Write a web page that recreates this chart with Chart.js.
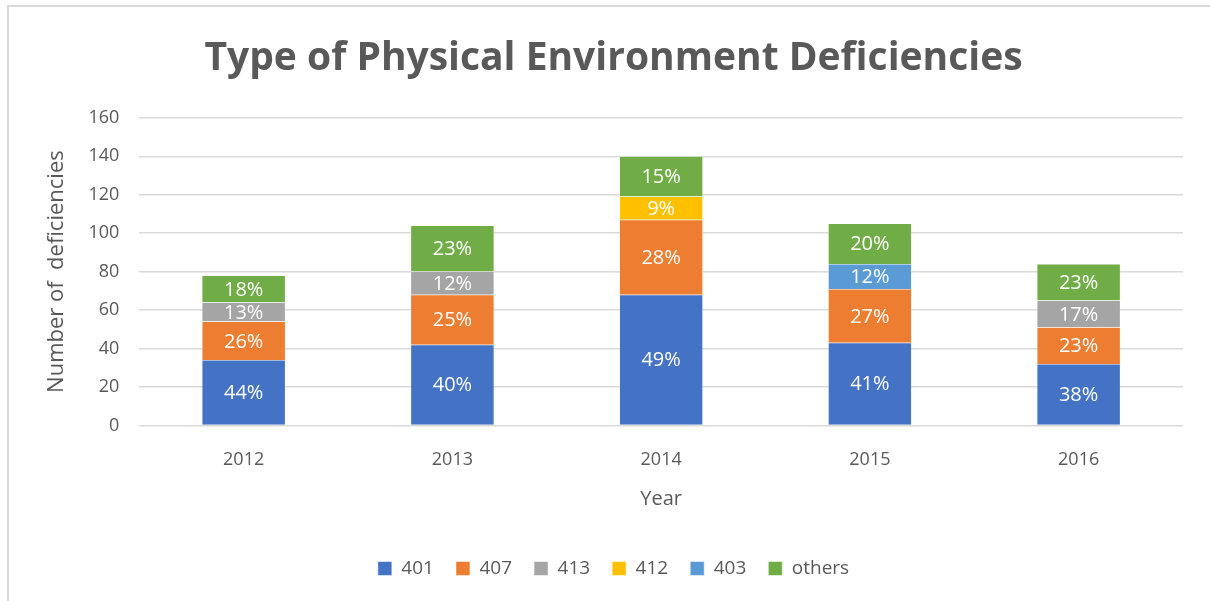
<!DOCTYPE html>
<html>
<head>
<meta charset="utf-8">
<script src="https://cdn.jsdelivr.net/npm/chart.js@4"></script>
<style>
    html, body { margin: 0; padding: 0; background: #fff; }
    #wrap {
        position: absolute;
        left: 7px; top: 5px;
        width: 1210px; height: 601px;
        border-left: 2px solid #d9d9d9;
        border-top: 2px solid #d9d9d9;
        box-sizing: border-box;
    }
    canvas { display: block; }
</style>
</head>
<body>
<div id="wrap"><canvas id="chart" width="1201" height="594"></canvas></div>
<script>
// Data
const years = ["2012", "2013", "2014", "2015", "2016"];
const s401 = [34, 42, 68, 43, 32];
const s407 = [20, 26, 39, 28, 19];
const s413 = [10, 12, null, null, 14];
const s412 = [null, null, 12, null, null];
const s403 = [null, null, null, 13, null];
const sOthers = [14, 24, 21, 21, 19];
const yTicks = [0, 20, 40, 60, 80, 100, 120, 140, 160];

const FONT = "'Open Sans', 'Liberation Sans', sans-serif";
const GREY = "#595959";

// draw percentage of column total inside each segment
const pctLabels = {
    id: "pctLabels",
    afterDatasetsDraw(chart) {
        const ctx = chart.ctx;
        const sets = chart.data.datasets;
        ctx.save();
        ctx.fillStyle = "#fff";
        ctx.font = "20px " + FONT;
        ctx.textAlign = "center";
        ctx.textBaseline = "middle";
        sets.forEach((ds, i) => {
            const meta = chart.getDatasetMeta(i);
            meta.data.forEach((bar, j) => {
                const v = ds.data[j];
                if (v == null) return;
                let total = 0;
                sets.forEach(d => { total += d.data[j] || 0; });
                const pct = Math.round(v / total * 100) + "%";
                ctx.fillText(pct, bar.x, (bar.y + bar.base) / 2 + 1);
            });
        });
        ctx.restore();
    }
};

function series(label, data, color) {
    return {
        label: label,
        data: data,
        backgroundColor: color,
        borderColor: "#fff",
        borderWidth: 0.5,
        barPercentage: 0.4,
        categoryPercentage: 1.0
    };
}

new Chart(document.getElementById("chart").getContext("2d"), {
    type: "bar",
    data: {
        labels: years,
        datasets: [
            series("401", s401, "#4472c4"),
            series("407", s407, "#ed7d31"),
            series("413", s413, "#a5a5a5"),
            series("412", s412, "#ffc000"),
            series("403", s403, "#5b9bd5"),
            series("others", sOthers, "#70ad47")
        ]
    },
    plugins: [pctLabels],
    options: {
        responsive: false,
        animation: false,
        layout: { padding: { left: 35, right: 27, top: 10, bottom: 13 } },
        plugins: {
            title: {
                display: true,
                text: "Type of Physical Environment Deficiencies",
                color: GREY,
                font: { family: FONT, size: 39, weight: "bold" },
                padding: { top: 18, bottom: 36 }
            },
            legend: {
                position: "bottom",
                labels: {
                    color: GREY,
                    font: { family: FONT, size: 19 },
                    boxWidth: 14,
                    boxHeight: 14,
                    padding: 22
                }
            },
            tooltip: { enabled: false }
        },
        scales: {
            x: {
                stacked: true,
                grid: { display: false },
                border: { display: false },
                ticks: { color: GREY, font: { family: FONT, size: 18 }, padding: 16 },
                title: {
                    display: true,
                    text: "Year",
                    color: GREY,
                    font: { family: FONT, size: 20 },
                    padding: { top: 0, bottom: 26 }
                }
            },
            y: {
                stacked: true,
                min: 0,
                max: 160,
                afterBuildTicks(axis) {
                    axis.ticks = yTicks.map(v => ({ value: v }));
                },
                grid: { color: "#d9d9d9", lineWidth: 1.5, drawTicks: false },
                border: { display: false },
                ticks: { color: GREY, font: { family: FONT, size: 18 }, padding: 20 },
                title: {
                    display: true,
                    text: "Number of  deficiencies",
                    color: GREY,
                    font: { family: FONT, size: 22 },
                    padding: { top: 0, bottom: -2 }
                }
            }
        }
    }
});
</script>
</body>
</html>
